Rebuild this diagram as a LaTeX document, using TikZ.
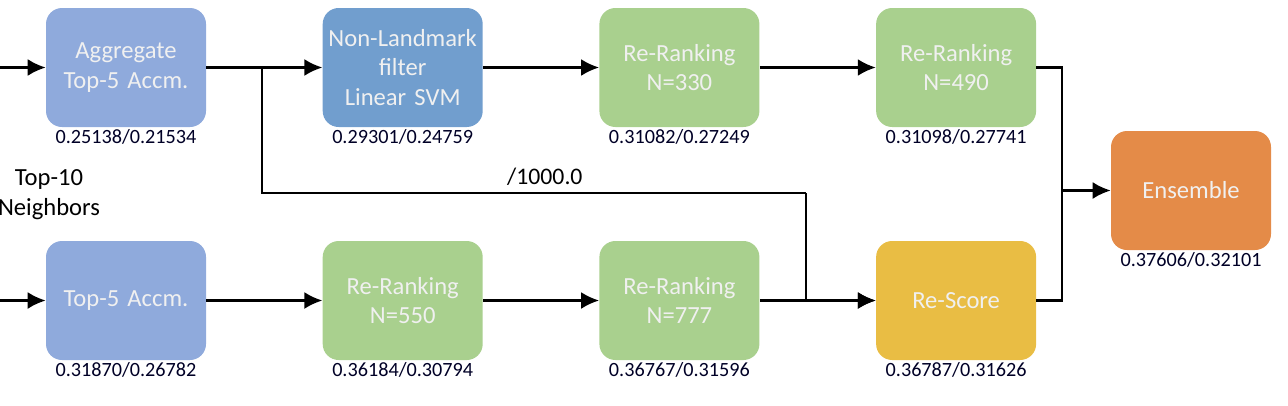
\documentclass[tikz,border=0pt]{standalone}
\usepackage{fontspec}
\setmainfont{Carlito}
\usetikzlibrary{positioning,arrows.meta}
\definecolor{accmblue}{HTML}{8FAADC}
\definecolor{svmblue}{HTML}{719ECE}
\definecolor{rankgreen}{HTML}{A9D08E}
\definecolor{scoregold}{HTML}{E9BD44}
\definecolor{ensorange}{HTML}{E48B48}

\begin{document}
\begin{tikzpicture}[
    node distance=2.32cm,
    stage/.style={rectangle, rounded corners=0.32cm, inner sep=2pt, text width=3cm, align=center, minimum width=3.2cm, minimum height=2.38cm, text=white!94!black, font=\fontsize{14}{17}\selectfont},
    score/.style={font=\fontsize{11.5}{13}\selectfont, text=black!85!blue, inner sep=1pt},
    arrow/.style={-{Latex[length=3.6mm,width=3.4mm]}, line width=1.3pt},
    line/.style={line width=1.3pt}
]
\useasboundingbox (0,0) rectangle (25.76,8.1);

% top row
\node[stage, fill=accmblue, label={[score]below:0.25138/0.21534}] (agg) at (2.52,6.75) {Aggregate\\Top-5 Accm.};
\node[stage, fill=svmblue, right=of agg, label={[score]below:0.29301/0.24759}] (svm) {Non-Landmark\\filter\\Linear SVM};
\node[stage, fill=rankgreen, right=of svm, label={[score]below:0.31082/0.27249}] (rr330) {Re-Ranking\\N=330};
\node[stage, fill=rankgreen, right=of rr330, label={[score]below:0.31098/0.27741}] (rr490) {Re-Ranking\\N=490};

% bottom row
\node[stage, fill=accmblue, label={[score]below:0.31870/0.26782}] (accm) at (2.52,2.09) {Top-5 Accm.};
\node[stage, fill=rankgreen, right=of accm, label={[score]below:0.36184/0.30794}] (rr550) {Re-Ranking\\N=550};
\node[stage, fill=rankgreen, right=of rr550, label={[score]below:0.36767/0.31596}] (rr777) {Re-Ranking\\N=777};
\node[stage, fill=scoregold, right=of rr777, label={[score]below:0.36787/0.31626}] (rescore) {Re-Score};

\node[stage, fill=ensorange, label={[score]below:0.37606/0.32101}] (ens) at (23.82,4.29) {Ensemble};

\node[align=center, font=\fontsize{14}{17}\selectfont] (nbrs) at (0.98,4.2) {Top-10\\Neighbors};

\coordinate (in1) at (0,6.75);
\coordinate (in2) at (0,2.09);
\coordinate (split) at (5.24,6.75);
\coordinate (turn) at (16.12,4.24);
\coordinate (merge) at (21.24,4.29);

\draw[arrow] (in1) -- (agg);
\draw[arrow] (in2) -- (accm);
\draw[arrow] (agg) -- (svm);
\draw[arrow] (svm) -- (rr330);
\draw[arrow] (rr330) -- (rr490);
\draw[arrow] (accm) -- (rr550);
\draw[arrow] (rr550) -- (rr777);
\draw[arrow] (rr777) -- (rescore);
\draw[line] (split) |- node[pos=0.76, above, font=\fontsize{13.5}{16}\selectfont] {/1000.0} (turn);
\draw[arrow] (turn) |- (rescore.west);
\draw[line] (rr490.east) -| (merge);
\draw[line] (rescore.east) -| (merge);
\draw[arrow] (merge) -- (ens);

\end{tikzpicture}
\end{document}
